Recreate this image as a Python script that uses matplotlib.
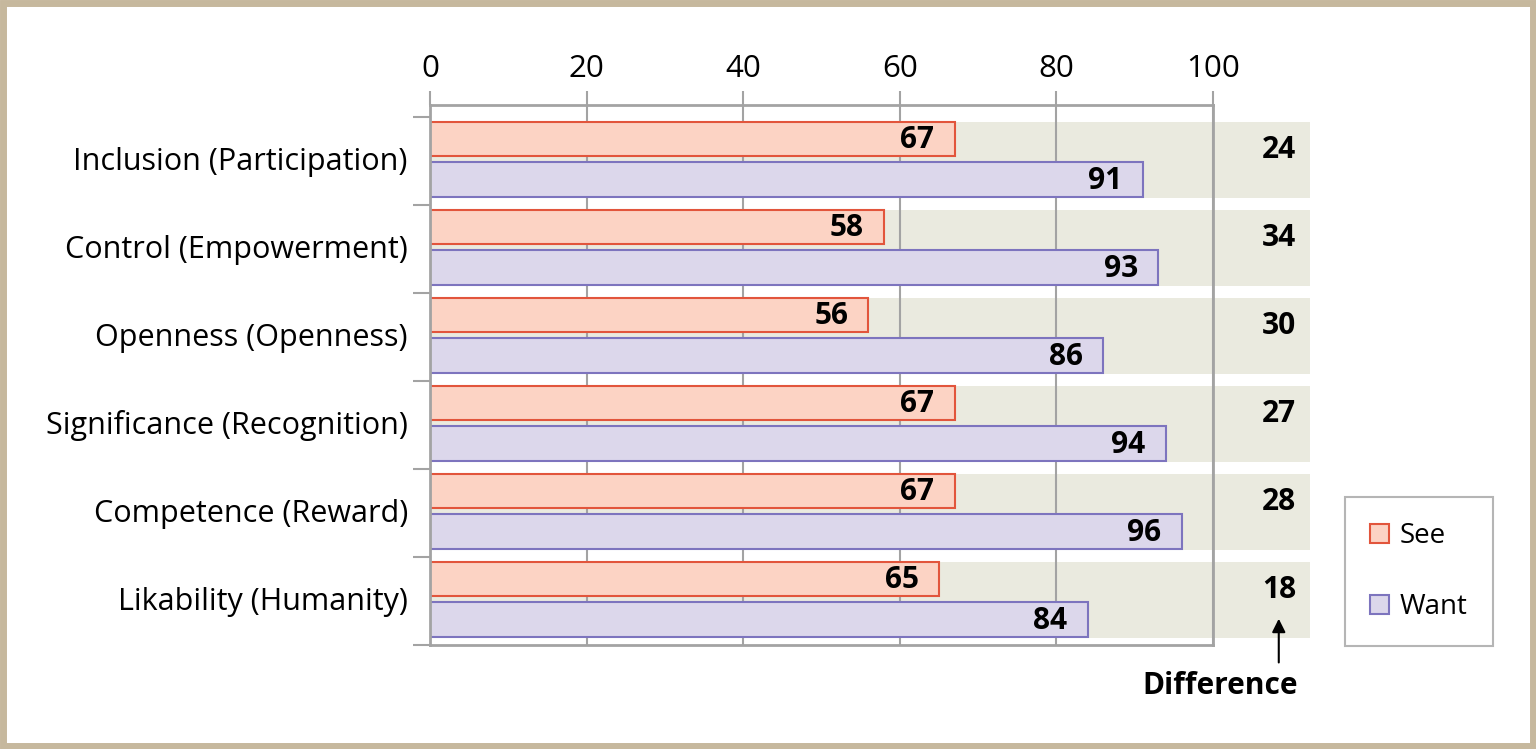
import numpy as np
import matplotlib
matplotlib.use('Agg')
from matplotlib import pyplot as plt
from matplotlib.patches import Rectangle, Patch

plt.rcParams['font.family'] = ['Open Sans', 'DejaVu Sans']

categories = ['Inclusion (Participation)', 'Control (Empowerment)', 'Openness (Openness)',
              'Significance (Recognition)', 'Competence (Reward)', 'Likability (Humanity)']
see = [67, 58, 56, 67, 67, 65]
want = [91, 93, 86, 94, 96, 84]
diff = [24, 34, 30, 27, 28, 18]
xticks = [0, 20, 40, 60, 80, 100]

see_face, see_edge = '#FCD3C4', '#E2553C'
want_face, want_edge = '#DCD7EB', '#7D74BE'
band_col = '#EAEADF'
grid_col = '#A3A3A3'

fig = plt.figure(figsize=(15.36, 7.49), dpi=100)
ax = fig.add_axes([430/1536, 1-645/749, 783/1536, 540/749])

n = len(categories)
g = np.arange(n)
#grey band behind each pair, runs past the right spine to hold the difference
ax.barh(g + 0.485, 112.4, height=0.86, left=0, color=band_col, zorder=0.2, clip_on=False)

ax.barh(g + 0.25, see, height=0.39, color=see_face, edgecolor=see_edge, linewidth=1.5, zorder=2)
ax.barh(g + 0.71, want, height=0.39, color=want_face, edgecolor=want_edge, linewidth=1.5, zorder=2)

for i in range(n):
    ax.text(see[i] - 2.6, i + 0.265, str(see[i]), ha='right', va='center',
            fontsize=21.5, fontweight='bold', zorder=3)
    ax.text(want[i] - 2.6, i + 0.725, str(want[i]), ha='right', va='center',
            fontsize=21.5, fontweight='bold', zorder=3)
    ax.text(110.6, i + 0.38, str(diff[i]), ha='right', va='center',
            fontsize=21.5, fontweight='bold', clip_on=False)

ax.set_xlim(0, 100)
ax.set_ylim(n, -12/88)
ax.xaxis.tick_top()
ax.set_xticks(xticks)
ax.set_xticklabels([str(t) for t in xticks], fontsize=22.5)
ax.tick_params(axis='x', length=10, width=1.5, color=grid_col, pad=5)
ax.set_axisbelow(True)
ax.grid(axis='x', color=grid_col, linewidth=1.5)

ax.set_yticks(g + 0.47)
ax.set_yticklabels(categories, fontsize=22)
ax.tick_params(axis='y', length=0, pad=16)
ax.set_yticks(np.arange(n + 1), minor=True)
ax.tick_params(axis='y', which='minor', length=12, width=1.5, color=grid_col)

for s in ax.spines.values():
    s.set_color(grid_col)
    s.set_linewidth(2)

ax.annotate('', xy=(108.4, 5.67), xytext=(108.4, 6.23),
            arrowprops=dict(arrowstyle='-|>', color='black', lw=1.5, mutation_scale=20),
            annotation_clip=False)
ax.text(100.9, 6.47, 'Difference', ha='center', va='center', fontsize=21.5,
        fontweight='bold', clip_on=False)

handles = [Patch(facecolor=see_face, edgecolor=see_edge, linewidth=1.5, label='See'),
           Patch(facecolor=want_face, edgecolor=want_edge, linewidth=1.5, label='Want')]
leg = fig.legend(handles=handles, loc='lower left', bbox_to_anchor=(1345/1536, 1-646/749),
                 fontsize=20, frameon=True, fancybox=False, edgecolor=grid_col,
                 handlelength=0.68, handleheight=0.68, handletextpad=0.4,
                 labelspacing=1.55, borderpad=0.9, borderaxespad=0)
leg.get_frame().set_linewidth(1.5)

fig.patches.append(Rectangle((0.002, 0.004), 0.996, 0.992, transform=fig.transFigure,
                             fill=False, edgecolor='#C6B89D', linewidth=5, zorder=10))

fig.savefig('out.png', dpi=100)
